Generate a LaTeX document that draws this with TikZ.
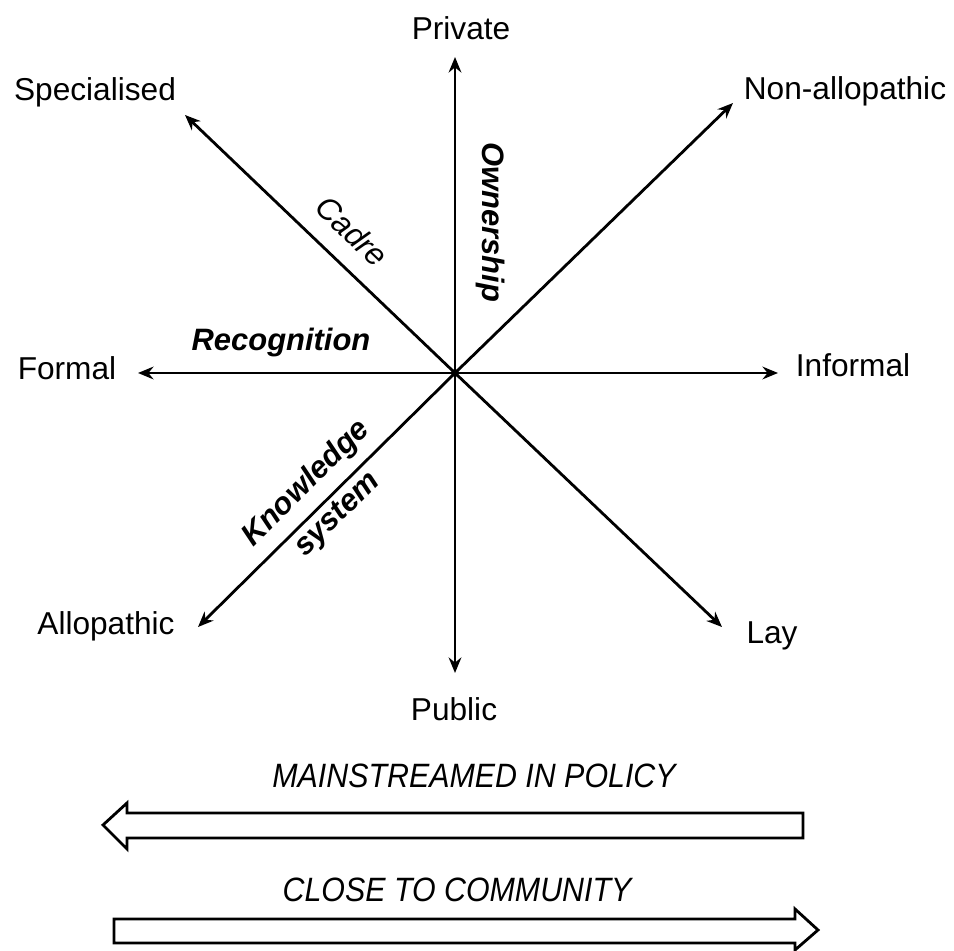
\documentclass[tikz,border=0pt]{standalone}
\usepackage{fontspec}
\setmainfont{Liberation Sans}
\usetikzlibrary{arrows.meta}

\begin{document}
\begin{tikzpicture}[x=0.025cm,y=-0.025cm,
	pole/.style={font=\fontsize{22.5}{27}\selectfont, inner sep=0pt},
	axisname/.style={font=\fontsize{22}{27}\selectfont\bfseries\itshape, inner sep=0pt},
	axisline/.style={line width=2pt, -{Stealth[length=11pt,width=9pt]}},
	blockarrow/.style={line width=2pt, line join=miter, fill=white},
	banner/.style={font=\fontsize{24}{28}\selectfont\itshape, inner sep=0pt, xscale=0.9}]
	\useasboundingbox (0,0) rectangle (954,951);
	\coordinate (o) at (455,373);
	\coordinate (tipup) at (455,57);
	\coordinate (tipdown) at (455,673);
	\coordinate (tipleft) at (138,373);
	\coordinate (tipright) at (778,373);
	\coordinate (tipul) at (185,115);
	\coordinate (tipur) at (733,103);
	\coordinate (tipll) at (198,627);
	\coordinate (tiplr) at (722,627);

	\node[pole] (private) at (461,28) {Private};
	\node[pole] (public) at (454,709) {Public};
	\node[pole] (formal) at (67,368) {Formal};
	\node[pole] (informal) at (853,365) {Informal};
	\node[pole] (special) at (95,92) {Specialised};
	\node[pole] (nonallo) at (845,91) {Non-allopathic};
	\node[pole] (allo) at (106,626) {Allopathic};
	\node[pole] (lay) at (772,636) {Lay};

	\draw[axisline] (o) -- (tipup);
	\draw[axisline] (o) -- (tipdown);
	\draw[axisline] (o) -- (tipleft);
	\draw[axisline] (o) -- (tipright);
	\draw[axisline] (o) -- (tipul);
	\draw[axisline] (o) -- (tipur);
	\draw[axisline] (o) -- (tipll);
	\draw[axisline] (o) -- (tiplr);
	\fill (o) circle (4);

	\node[axisname, rotate=-90] (owner) at (490,222) {Ownership};
	\node[axisname] (recog) at (281,343) {Recognition};
	\node[axisname, font=\fontsize{22.5}{27}\selectfont\itshape, rotate=-43.7] (cadre) at (352,231) {Cadre};
	\node[axisname, font=\fontsize{22}{31}\selectfont\bfseries\itshape, rotate=44.7, align=center] (know) at (322,499) {Knowledge\\system};

	\node[banner] (mainstream) at (474,776) {MAINSTREAMED IN POLICY};
	\draw[blockarrow] (103,825) -- (127,803) -- (127,813) -- (803,813) -- (803,838) -- (127,838) -- (127,849) -- cycle;
	\node[banner] (close) at (457,890) {CLOSE TO COMMUNITY};
	\draw[blockarrow] (114,919) -- (795,919) -- (795,909) -- (818,930) -- (795,950) -- (795,943) -- (114,943) -- cycle;
\end{tikzpicture}
\end{document}
